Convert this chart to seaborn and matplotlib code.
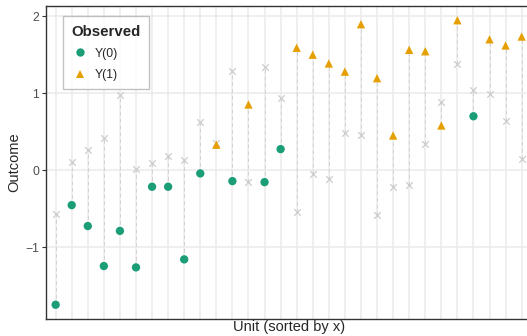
import numpy as np
import pandas as pd
import matplotlib
matplotlib.use("Agg")
import matplotlib.pyplot as plt
import seaborn as sns

units = list(range(1, 31))
treated = [0, 0, 0, 0, 0, 0, 0, 0, 0, 0,
           1, 0, 1, 0, 0, 1, 1, 1, 1, 1,
           1, 1, 1, 1, 1, 1, 0, 1, 1, 1]
y0 = [-1.75, -0.455, -0.727, -1.247, -0.79, -1.264, -0.216, -0.216, -1.16, -0.043,
      0.35, -0.143, -0.16, -0.156, 0.273, -0.54, -0.056, -0.12, 0.476, 0.45,
      -0.584, -0.225, -0.195, 0.334, 0.88, 1.377, 0.70, 0.987, 0.632, 0.143]
y1 = [-0.575, 0.10, 0.26, 0.42, 0.97, 0.01, 0.087, 0.18, 0.125, 0.62,
      0.33, 1.286, 0.853, 1.34, 0.935, 1.59, 1.50, 1.386, 1.28, 1.896,
      1.195, 0.45, 1.563, 1.545, 0.58, 1.948, 1.035, 1.70, 1.62, 1.736]
y_ticks = [-1, 0, 1, 2]
observed_labels = ["Y(0)", "Y(1)"]

df = pd.DataFrame({"unit": units, "treated": treated, "y0": y0, "y1": y1})
df["y_obs"] = np.where(df["treated"] == 1, df["y1"], df["y0"])
df["y_mis"] = np.where(df["treated"] == 1, df["y0"], df["y1"])
df["Observed"] = [observed_labels[t] for t in df["treated"]]

sns.set_theme(style="white")
plt.rcParams["font.family"] = ["Liberation Sans", "DejaVu Sans"]

W, H = 527, 336
fig = plt.figure(figsize=(W / 100, H / 100), dpi=100)
left, right, top, bottom = 46, 531.3, 6, 319
ax = fig.add_axes([left / W, 1 - bottom / H, (right - left) / W, (bottom - top) / H])

# grid
for u in units:
    ax.axvline(u, color="#EBEBEB", lw=1.1, zorder=0)
for t in y_ticks:
    ax.axhline(t, color="#EBEBEB", lw=1.1, zorder=0)

# dashed connectors
ax.vlines(df["unit"], df[["y0", "y1"]].min(axis=1), df[["y0", "y1"]].max(axis=1),
          colors="#D3D3D3", linestyles=(0, (4, 3)), lw=0.7, zorder=1)

# unobserved
sns.scatterplot(data=df, x="unit", y="y_mis", marker="x", color="#CCCCCC",
                s=22, linewidth=0.9, ax=ax, zorder=2, legend=False)

# observed
sns.scatterplot(data=df, x="unit", y="y_obs", hue="Observed", style="Observed",
                hue_order=observed_labels, style_order=observed_labels,
                palette={"Y(0)": "#1B9E77", "Y(1)": "#E69F00"},
                markers={"Y(0)": "o", "Y(1)": "^"}, s=36, linewidth=0,
                ax=ax, zorder=3)

ax.set_xlim(0.4, 30.6)
ax.set_ylim(-1.935, 2.133)
ax.set_xticks([])
ax.set_yticks(y_ticks)
ax.set_yticklabels(["\u22121" if t < 0 else str(t) for t in y_ticks])
ax.tick_params(axis="y", which="both", left=True, length=3, width=0.8,
               color="#333333", labelsize=8.8, labelcolor="#4D4D4D", pad=2)
for side in ["left", "bottom", "top", "right"]:
    ax.spines[side].set_color("#333333")
    ax.spines[side].set_linewidth(1.0)
ax.set_xlabel("Unit (sorted by x)", fontsize=10.5, labelpad=1)
ax.set_ylabel("Outcome", fontsize=10.5, labelpad=3)

handles, labels = ax.get_legend_handles_labels()
leg = ax.legend(handles, labels, title="Observed", loc="upper left",
                bbox_to_anchor=(0.034, 0.968), borderaxespad=0, frameon=True, fancybox=False,
                edgecolor="#B3B3B3", fontsize=8.8, title_fontproperties={"weight": "bold", "size": 10.8},
                borderpad=0.7, labelspacing=0.75, handletextpad=0.5, handlelength=1.4,
                markerscale=1.0)
leg._legend_box.align = "left"
leg.get_frame().set_linewidth(1.0)

fig.savefig("out.png", dpi=100)
